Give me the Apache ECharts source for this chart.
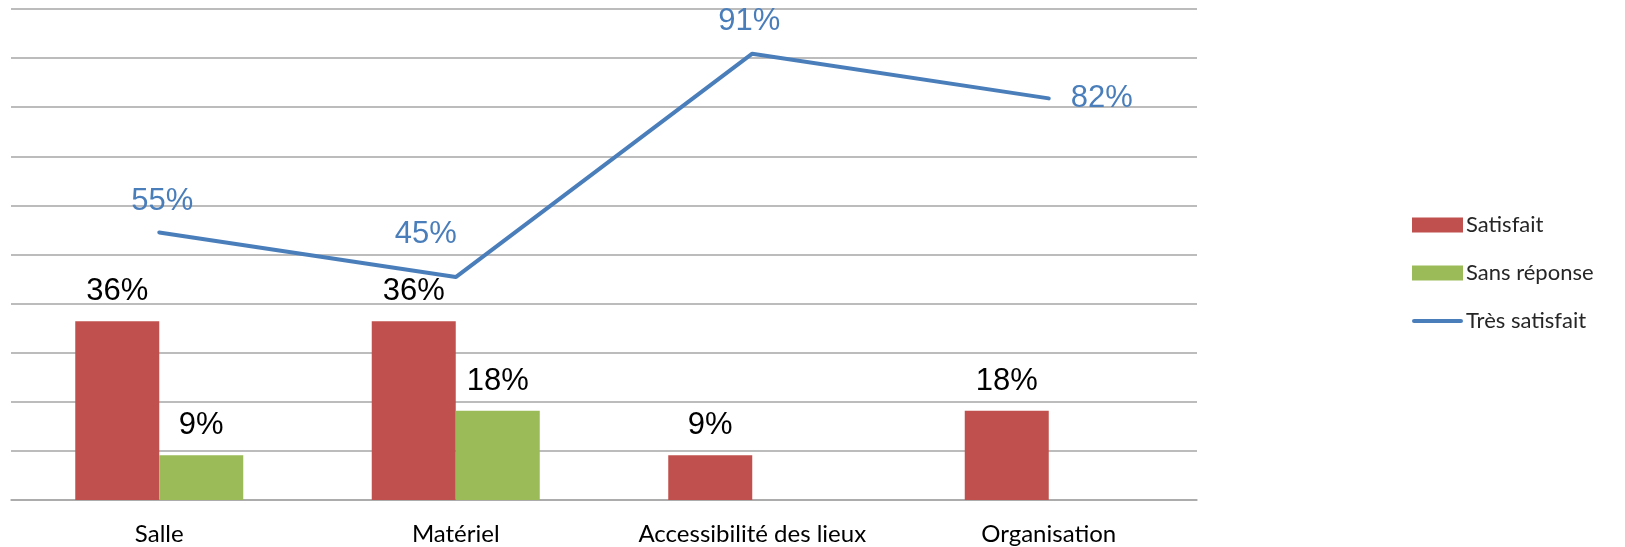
<!DOCTYPE html>
<html>
<head>
<meta charset="utf-8">
<script src="https://cdn.jsdelivr.net/npm/echarts@6/dist/echarts.min.js"></script>
<style>
  html, body { margin: 0; padding: 0; background: #fff; }
  #chart { width: 1625px; height: 547px; }
</style>
</head>
<body>
<div id="chart"></div>
<script>
// categories and values (fractions)
let categories = ['Salle', 'Matériel', 'Accessibilité des lieux', 'Organisation'];
let satisfait = [0.364, 0.364, 0.091, 0.182];
let sansReponse = [0.091, 0.182, '-', '-'];
let tresSatisfait = [0.545, 0.454, 0.909, 0.818];

let myChart = echarts.init(document.getElementById('chart'));

function pct(p) {
    return Math.round(p.value * 100) + '%';
}

// label placement of the line points (like in the excel chart)
let lineLabels = [
    { position: 'top', distance: 15, offset: [3, 0] },
    { position: 'top', distance: 15, offset: [-30, -12] },
    { position: 'top', distance: 17, offset: [-3, 0] },
    { position: 'right', distance: 22, offset: [0, 0] }
];

let lineData = tresSatisfait.map(function (v, i) {
    return { value: v, label: lineLabels[i] };
});

let option = {
    animation: false,
    textStyle: { fontFamily: 'Liberation Sans, Arial, sans-serif' },
    grid: {
        left: 11,
        right: 428,
        top: 9,
        bottom: 47,
        containLabel: false
    },
    legend: {
        orient: 'vertical',
        left: 1407,
        top: 209,
        itemWidth: 51,
        itemHeight: 15,
        itemGap: 26,
        textStyle: { fontFamily: 'Lato', fontSize: 22, color: '#262626', padding: [0, 0, 0, -2] },
        data: [
            { name: 'Satisfait', icon: 'rect' },
            { name: 'Sans réponse', icon: 'rect' },
            { name: 'Très satisfait', icon: 'path://M2,0 H48 A2,2 0 0 1 48,4 H2 A2,2 0 0 1 2,0 Z' }
        ]
    },
    xAxis: {
        type: 'category',
        data: categories,
        axisLine: { lineStyle: { color: '#a6a6a6', width: 1.5 } },
        axisTick: { length: 10, lineStyle: { color: '#a6a6a6', width: 1.5 } },
        axisLabel: {
            fontFamily: 'Lato',
            fontSize: 24,
            color: '#000',
            margin: 22
        }
    },
    yAxis: {
        type: 'value',
        min: 0,
        max: 1,
        interval: 0.1,
        axisLabel: { show: false },
        axisLine: { show: false },
        axisTick: { show: false },
        splitLine: { lineStyle: { color: '#a6a6a6', width: 1.5 } }
    },
    series: [
        {
            name: 'Satisfait',
            type: 'bar',
            data: satisfait,
            barWidth: 84,
            barGap: '0%',
            itemStyle: { color: '#c0504d' },
            label: {
                show: true,
                position: 'top',
                distance: 14,
                fontSize: 31,
                color: '#000',
                formatter: pct
            }
        },
        {
            name: 'Sans réponse',
            type: 'bar',
            data: sansReponse,
            barWidth: 84,
            barGap: '0%',
            itemStyle: { color: '#9bbb59' },
            label: {
                show: true,
                position: 'top',
                distance: 14,
                fontSize: 31,
                color: '#000',
                formatter: pct
            }
        },
        {
            name: 'Très satisfait',
            type: 'line',
            data: lineData,
            symbol: 'circle',
            symbolSize: 0.1,
            showSymbol: true,
            lineStyle: { color: '#4a7ebb', width: 4, cap: 'round' },
            itemStyle: { color: '#4a7ebb' },
            label: {
                show: true,
                fontSize: 31,
                color: '#4a7ebb',
                formatter: pct
            }
        }
    ]
};

myChart.setOption(option);
</script>
</body>
</html>
